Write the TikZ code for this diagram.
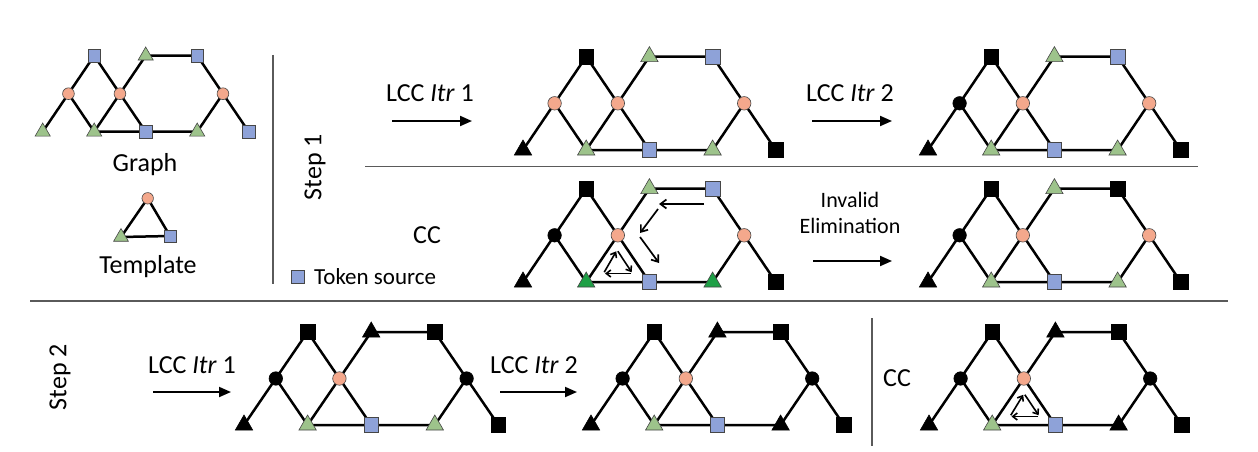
\documentclass[tikz,border=0pt]{standalone}
\usepackage{fontspec}
\setmainfont{Carlito}
\usetikzlibrary{shapes.geometric,arrows.meta,backgrounds}
\definecolor{salmon}{RGB}{244,168,140}
\definecolor{lgreen}{RGB}{157,195,139}
\definecolor{dgreen}{RGB}{30,160,70}
\definecolor{lblue}{RGB}{142,162,216}
\definecolor{bord}{RGB}{70,70,70}
\definecolor{sepc}{RGB}{90,90,90}
\newcommand\ns{1}
\tikzset{
 gnode/.style={inner sep=0pt, draw=bord, line width=0.6pt},
 circ/.style={gnode, circle, fill=salmon, minimum size=\ns*13.5pt},
 kcirc/.style={gnode, circle, fill=black, draw=black, minimum size=\ns*13.5pt},
 gtri/.style={gnode, regular polygon, regular polygon sides=3, fill=lgreen, minimum size=\ns*20pt},
 dtri/.style={gtri, fill=dgreen},
 ktri/.style={gtri, fill=black, draw=black},
 bsq/.style={gnode, rectangle, fill=lblue, minimum size=\ns*14.5pt},
 ksq/.style={bsq, fill=black, draw=black},
 edge/.style={line width=2.5pt, black, line join=round},
 bigarrow/.style={line width=1.9pt, -{Triangle[length=12pt,width=10pt]}},
 thinarrow/.style={line width=1.7pt, -{Straight Barb[length=6pt,width=9pt]}},
 cyc/.style={line width=1.6pt, -{Straight Barb[length=4.5pt,width=7pt]}, shorten <=1.5pt, shorten >=1.5pt},
 sepline/.style={draw=sepc, line width=1.2pt},
 lbl/.style={font=\fontsize{26}{30}\selectfont, inner sep=0pt},
 slbl/.style={font=\fontsize{22}{26}\selectfont, inner sep=0pt, align=center},
}
\newcommand\drawgraph[1]{%
 \node[sA] (#1A) at (0,0) {};
 \node[sB] (#1B) at (1,1) {};
 \node[sC] (#1C) at (2,2) {};
 \node[sD] (#1D) at (2,0) {};
 \node[sE] (#1E) at (3,1) {};
 \node[sF] (#1F) at (4,2) {};
 \node[sG] (#1G) at (4,0) {};
 \node[sH] (#1H) at (6,2) {};
 \node[sI] (#1I) at (6,0) {};
 \node[sJ] (#1J) at (7,1) {};
 \node[sK] (#1K) at (8,0) {};
 \begin{pgfonlayer}{background}
 \draw[edge] (#1A.center) -- (#1B.center) -- (#1C.center) -- (#1E.center) -- (#1G.center);
 \draw[edge] (#1B.center) -- (#1D.center) -- (#1E.center) -- (#1F.center) -- (#1H.center) -- (#1J.center) -- (#1K.center);
 \draw[edge] (#1D.center) -- (#1G.center) -- (#1I.center) -- (#1J.center);
 \end{pgfonlayer}
}
\begin{document}
\begin{tikzpicture}[x=1pt,y=-1pt]
\begin{pgfonlayer}{background}
\fill[white] (0,0) rectangle (1258,452);
\end{pgfonlayer}
\useasboundingbox (0,0) rectangle (1258,452);

% separators
\draw[sepline] (273,55) -- (273,284);
\draw[sepline] (365,166.5) -- (1198,166.5);
\draw[sepline] (30,301) -- (1228,301);
\draw[sepline] (872,318) -- (872,446);

% original graph
\begin{scope}[shift={(42.7,131.7)}, x=25.75pt, y=38pt,
  sA/.style=gtri, sB/.style=circ, sC/.style=bsq, sD/.style=gtri, sE/.style=circ,
  sF/.style=gtri, sG/.style=bsq, sH/.style=bsq, sI/.style=gtri, sJ/.style=circ, sK/.style=bsq]
\renewcommand\ns{0.87}
\drawgraph{g0}
\end{scope}
\node[lbl] (graphlbl) at (145,165) {Graph};

% template
\begin{scope}
\renewcommand\ns{0.85}
\node[circ] (tc) at (147.7,198.3) {};
\node[gtri] (tt) at (121,237) {};
\node[bsq] (ts) at (170,236) {};
\begin{pgfonlayer}{background}
\draw[edge] (tc.center) -- (tt.center) -- (ts.center) -- cycle;
\end{pgfonlayer}
\end{scope}
\node[lbl] (templatelbl) at (148,267) {Template};

% step 1 labels
\node[lbl, rotate=90] (step1) at (315,167) {Step 1};
\node[lbl] (lcc11) at (430,93) {LCC \textit{Itr} 1};
\coordinate (a11s) at (392,121); \coordinate (a11e) at (472,121);
\draw[bigarrow] (a11s) -- (a11e);
\node[lbl] (lcc12) at (850,93) {LCC \textit{Itr} 2};
\coordinate (a12s) at (812,121); \coordinate (a12e) at (892,121);
\draw[bigarrow] (a12s) -- (a12e);
\node[lbl] (cc1) at (427,235) {CC};
\node[slbl] (inval) at (850,213) {Invalid\\Elimination};
\coordinate (a13s) at (813,261); \coordinate (a13e) at (892,261);
\draw[bigarrow] (a13s) -- (a13e);
\node[bsq, minimum size=13pt] (tokensq) at (297.7,276.7) {};
\node[font=\fontsize{23}{27}\selectfont, inner sep=0pt, anchor=west] (tokenlbl) at (314,276.7) {Token source};

% G1
\begin{scope}[shift={(523,150)}, x=31.6pt, y=46.7pt,
  sA/.style=ktri, sB/.style=circ, sC/.style=ksq, sD/.style=gtri, sE/.style=circ,
  sF/.style=gtri, sG/.style=bsq, sH/.style=bsq, sI/.style=gtri, sJ/.style=circ, sK/.style=ksq]
\drawgraph{g1}
\end{scope}
% G2
\begin{scope}[shift={(928,150)}, x=31.6pt, y=46.7pt,
  sA/.style=ktri, sB/.style=kcirc, sC/.style=ksq, sD/.style=gtri, sE/.style=circ,
  sF/.style=gtri, sG/.style=bsq, sH/.style=bsq, sI/.style=gtri, sJ/.style=circ, sK/.style=ksq]
\drawgraph{g2}
\end{scope}
% G3 (CC)
\begin{scope}[shift={(523,282)}, x=31.6pt, y=46.7pt,
  sA/.style=ktri, sB/.style=kcirc, sC/.style=ksq, sD/.style=dtri, sE/.style=circ,
  sF/.style=gtri, sG/.style=bsq, sH/.style=bsq, sI/.style=dtri, sJ/.style=circ, sK/.style=ksq]
\drawgraph{g3}
\end{scope}
% G4
\begin{scope}[shift={(928,282)}, x=31.6pt, y=46.7pt,
  sA/.style=ktri, sB/.style=kcirc, sC/.style=ksq, sD/.style=gtri, sE/.style=circ,
  sF/.style=gtri, sG/.style=bsq, sH/.style=ksq, sI/.style=gtri, sJ/.style=circ, sK/.style=ksq]
\drawgraph{g4}
\end{scope}

% CC arrows in G3
\coordinate (p1) at (704,204); \coordinate (p2) at (659,204);
\coordinate (p3) at (658,209); \coordinate (p4) at (640,233);
\coordinate (p5) at (640,237); \coordinate (p6) at (659,263);
\draw[thinarrow] (p1) -- (p2);
\draw[thinarrow] (p3) -- (p4);
\draw[thinarrow] (p5) -- (p6);
\coordinate (c3T) at (617,250); \coordinate (c3L) at (603.5,273.5); \coordinate (c3R) at (632.5,273.5);
\draw[cyc] (c3L) -- (c3T);
\draw[cyc] (c3T) -- (c3R);
\draw[cyc] (c3R) -- (c3L);

% step 2
\node[lbl, rotate=90] (step2) at (60,377) {Step 2};
\node[lbl] (lcc21) at (192,365) {LCC \textit{Itr} 1};
\coordinate (a21s) at (153,392); \coordinate (a21e) at (231,392);
\draw[bigarrow] (a21s) -- (a21e);
\node[lbl] (lcc22) at (534,365) {LCC \textit{Itr} 2};
\coordinate (a22s) at (500,392); \coordinate (a22e) at (577,392);
\draw[bigarrow] (a22s) -- (a22e);
\node[lbl] (cc2) at (897,378) {CC};

% G5
\begin{scope}[shift={(244,425)}, x=31.8pt, y=46.5pt,
  sA/.style=ktri, sB/.style=kcirc, sC/.style=ksq, sD/.style=gtri, sE/.style=circ,
  sF/.style=ktri, sG/.style=bsq, sH/.style=ksq, sI/.style=gtri, sJ/.style=kcirc, sK/.style=ksq]
\drawgraph{g5}
\end{scope}
% G6
\begin{scope}[shift={(591,425)}, x=31.6pt, y=46.5pt,
  sA/.style=ktri, sB/.style=kcirc, sC/.style=ksq, sD/.style=gtri, sE/.style=circ,
  sF/.style=ktri, sG/.style=bsq, sH/.style=ksq, sI/.style=ktri, sJ/.style=kcirc, sK/.style=ksq]
\drawgraph{g6}
\end{scope}
% G7
\begin{scope}[shift={(929,425)}, x=31.6pt, y=46.5pt,
  sA/.style=ktri, sB/.style=kcirc, sC/.style=ksq, sD/.style=gtri, sE/.style=circ,
  sF/.style=ktri, sG/.style=bsq, sH/.style=ksq, sI/.style=ktri, sJ/.style=kcirc, sK/.style=ksq]
\drawgraph{g7}
\end{scope}
\coordinate (c7T) at (1024,393.5); \coordinate (c7L) at (1010,416.5); \coordinate (c7R) at (1039.5,416.5);
\draw[cyc] (c7L) -- (c7T);
\draw[cyc] (c7T) -- (c7R);
\draw[cyc] (c7R) -- (c7L);
\end{tikzpicture}
\end{document}
